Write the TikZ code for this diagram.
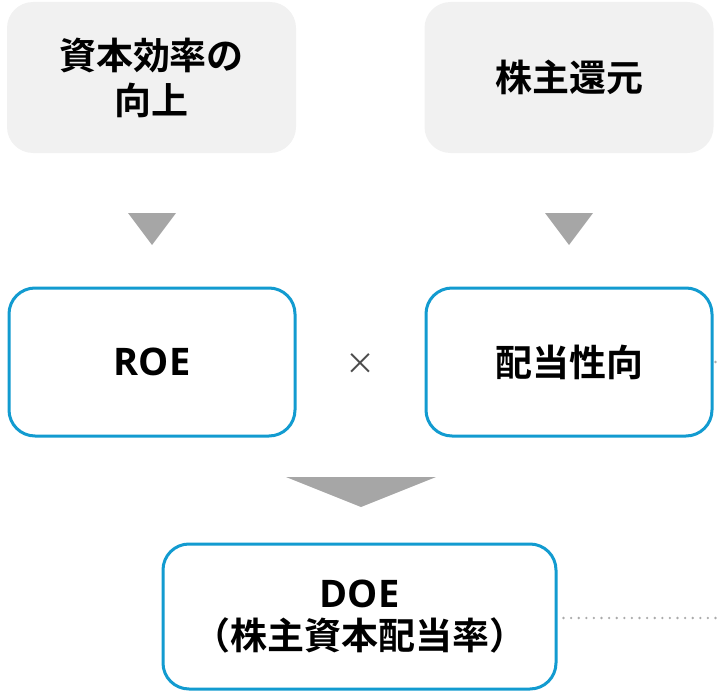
\documentclass[tikz,border=0pt]{standalone}
\usepackage{fontspec}
\setmainfont{Noto Sans CJK JP}[BoldFont={Noto Sans CJK JP Bold}]
\newfontfamily\lat{Open Sans}
\definecolor{boxgray}{RGB}{241,241,241}
\definecolor{trigray}{RGB}{166,166,166}
\definecolor{accent}{RGB}{18,155,208}
\definecolor{dotgray}{RGB}{170,170,170}
\begin{document}
\begin{tikzpicture}[x=1pt,y=-1pt,
  graybox/.style={rectangle,rounded corners=26pt,fill=boxgray,minimum width=289pt,minimum height=151pt,
    align=center,font=\fontsize{37}{45}\selectfont\bfseries,inner sep=0pt},
  bluebox/.style={rectangle,rounded corners=26pt,draw=accent,line width=3pt,fill=white,minimum width=286pt,minimum height=148pt,
    align=center,font=\fontsize{37}{45}\selectfont\bfseries,inner sep=0pt},
  tri/.style={fill=trigray},
  dotline/.style={draw=dotgray,line width=2.6pt,line cap=round,dash pattern=on 0pt off 7.6pt}]
\useasboundingbox (0,0) rectangle (718,693);
\node[graybox] (cap) at (151.5,77.5) {資本効率の\\向上};
\node[graybox] (ret) at (569,77.5) {株主還元};
\node[bluebox] (roe) at (152,362) {{\lat\fontsize{38}{45}\selectfont ROE}};
\node[bluebox] (pay) at (569,362) {配当性向};
\node[bluebox,minimum width=393pt,minimum height=145pt,font=\fontsize{37}{42}\selectfont\bfseries] (doe) at (359.5,616.5) {{\lat\fontsize{38}{42}\selectfont DOE}\\（株主資本配当率）};
\node[text=black!70,font=\fontsize{30}{30}\selectfont] (times) at (360,364) {×};
\fill[tri] (128,213) -- (176,213) -- (152,245) -- cycle;
\fill[tri] (545,213) -- (593,213) -- (569,245) -- cycle;
\fill[tri] (286,477) -- (436,477) -- (361,507) -- cycle;
\coordinate (edge) at (722,618);
\coordinate (edge2) at (722,362);
\draw[dotline] ([xshift=6pt]doe.east |- 0,618) -- (edge);
\draw[dotline] ([xshift=2pt]pay.east) -- (edge2);
\end{tikzpicture}
\end{document}
